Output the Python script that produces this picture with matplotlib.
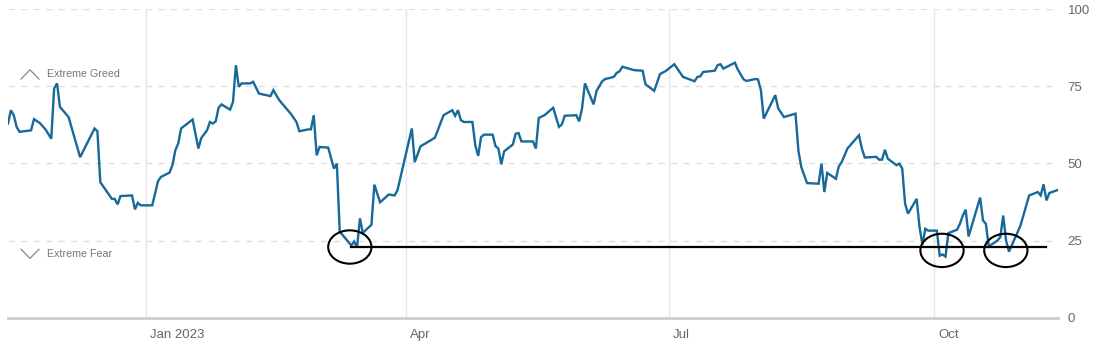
import pandas as pd
import matplotlib
matplotlib.use("Agg")
import matplotlib.pyplot as plt
import matplotlib.dates as mdates
from matplotlib.patches import Ellipse

# Fear & Greed index readings (date, value)
dates = [
    "2022-11-14", "2022-11-15", "2022-11-16", "2022-11-17", "2022-11-18", "2022-11-22", "2022-11-23",
    "2022-11-25", "2022-11-27", "2022-11-29", "2022-11-30", "2022-12-01", "2022-12-02", "2022-12-05",
    "2022-12-09", "2022-12-14", "2022-12-15", "2022-12-16", "2022-12-20", "2022-12-21", "2022-12-22",
    "2022-12-23", "2022-12-27", "2022-12-28", "2022-12-29", "2022-12-30", "2023-01-03", "2023-01-05",
    "2023-01-06", "2023-01-09", "2023-01-10", "2023-01-11", "2023-01-12", "2023-01-13", "2023-01-17",
    "2023-01-19", "2023-01-20", "2023-01-22", "2023-01-23", "2023-01-24", "2023-01-25", "2023-01-26",
    "2023-01-27", "2023-01-30", "2023-01-31", "2023-02-01", "2023-02-02", "2023-02-03", "2023-02-06",
    "2023-02-07", "2023-02-09", "2023-02-13", "2023-02-14", "2023-02-16", "2023-02-20", "2023-02-22",
    "2023-02-23", "2023-02-26", "2023-02-27", "2023-02-28", "2023-03-01", "2023-03-02", "2023-03-05",
    "2023-03-07", "2023-03-08", "2023-03-09", "2023-03-13", "2023-03-14", "2023-03-15", "2023-03-16",
    "2023-03-17", "2023-03-20", "2023-03-21", "2023-03-23", "2023-03-26", "2023-03-28", "2023-03-29",
    "2023-04-03", "2023-04-04", "2023-04-06", "2023-04-11", "2023-04-14", "2023-04-17", "2023-04-18",
    "2023-04-19", "2023-04-20", "2023-04-21", "2023-04-24", "2023-04-25", "2023-04-26", "2023-04-27",
    "2023-04-28", "2023-05-01", "2023-05-02", "2023-05-03", "2023-05-04", "2023-05-05", "2023-05-08",
    "2023-05-09", "2023-05-10", "2023-05-11", "2023-05-15", "2023-05-16", "2023-05-17", "2023-05-19",
    "2023-05-22", "2023-05-24", "2023-05-25", "2023-05-26", "2023-05-30", "2023-05-31", "2023-06-01",
    "2023-06-02", "2023-06-05", "2023-06-06", "2023-06-08", "2023-06-09", "2023-06-12", "2023-06-13",
    "2023-06-14", "2023-06-15", "2023-06-19", "2023-06-22", "2023-06-23", "2023-06-26", "2023-06-27",
    "2023-06-28", "2023-06-30", "2023-07-03", "2023-07-06", "2023-07-10", "2023-07-11", "2023-07-12",
    "2023-07-13", "2023-07-17", "2023-07-18", "2023-07-19", "2023-07-20", "2023-07-24", "2023-07-25",
    "2023-07-27", "2023-07-28", "2023-07-31", "2023-08-01", "2023-08-02", "2023-08-03", "2023-08-07",
    "2023-08-08", "2023-08-10", "2023-08-14", "2023-08-15", "2023-08-16", "2023-08-18", "2023-08-22",
    "2023-08-23", "2023-08-24", "2023-08-25", "2023-08-28", "2023-08-29", "2023-08-30", "2023-09-01",
    "2023-09-05", "2023-09-06", "2023-09-07", "2023-09-11", "2023-09-12", "2023-09-13", "2023-09-14",
    "2023-09-15", "2023-09-18", "2023-09-19", "2023-09-20", "2023-09-21", "2023-09-22", "2023-09-25",
    "2023-09-26", "2023-09-27", "2023-09-28", "2023-09-29", "2023-10-02", "2023-10-03", "2023-10-04",
    "2023-10-05", "2023-10-06", "2023-10-09", "2023-10-10", "2023-10-11", "2023-10-12", "2023-10-13",
    "2023-10-17", "2023-10-18", "2023-10-19", "2023-10-20", "2023-10-23", "2023-10-24", "2023-10-25",
    "2023-10-26", "2023-10-27", "2023-10-30", "2023-10-31", "2023-11-01", "2023-11-03", "2023-11-06",
    "2023-11-07", "2023-11-08", "2023-11-09", "2023-11-10", "2023-11-13",
]
values = [
    62.9, 67.2, 65.6, 61.8, 60.2, 60.7, 64.3,
    63.1, 61.0, 58.0, 74.3, 75.9, 68.3, 65.0,
    52.0, 61.3, 60.4, 43.9, 38.5, 38.5, 36.7,
    39.4, 39.6, 35.1, 37.2, 36.4, 36.4, 44.2,
    45.6, 47.0, 49.4, 54.2, 56.4, 61.3, 64.2,
    54.8, 58.2, 60.7, 63.4, 62.9, 63.6, 68.0,
    69.1, 67.4, 69.9, 81.8, 74.8, 75.9, 75.9,
    76.4, 72.6, 71.8, 73.7, 70.5, 66.1, 63.4,
    60.4, 61.0, 61.0, 65.6, 52.6, 55.3, 55.1,
    48.3, 49.9, 27.9, 23.4, 24.7, 22.8, 32.2,
    27.5, 30.1, 43.1, 37.4, 39.9, 39.6, 41.2,
    61.3, 50.4, 55.5, 58.3, 65.6, 67.2, 65.4,
    67.2, 64.0, 63.4, 63.4, 55.8, 52.4, 58.5,
    59.3, 59.3, 55.6, 54.8, 49.7, 53.9, 56.1,
    59.6, 59.8, 57.1, 57.1, 54.8, 64.7, 65.6,
    68.0, 61.8, 62.6, 65.4, 65.6, 63.6, 67.8,
    75.9, 69.1, 73.4, 76.6, 77.3, 78.0, 79.3,
    79.8, 81.3, 80.2, 80.0, 75.6, 73.5, 76.1,
    78.9, 79.9, 82.1, 78.0, 76.6, 78.0, 78.2,
    79.6, 80.0, 81.8, 82.1, 80.7, 82.6, 80.4,
    77.2, 76.7, 77.3, 77.2, 73.7, 64.5, 72.1,
    67.8, 65.0, 66.1, 54.2, 48.8, 43.6, 43.4,
    49.9, 40.7, 46.9, 45.0, 49.0, 50.4, 54.8,
    59.1, 54.8, 51.9, 52.1, 51.2, 51.2, 54.4,
    51.5, 49.4, 49.9, 48.3, 36.9, 33.7, 38.5,
    29.3, 23.7, 28.8, 28.2, 28.2, 20.1, 20.5,
    19.8, 27.4, 28.5, 30.4, 33.1, 35.0, 26.3,
    38.9, 31.5, 30.4, 23.1, 25.0, 26.1, 33.1,
    25.0, 21.4, 27.7, 29.9, 33.1, 39.6, 40.7,
    39.6, 43.2, 38.0, 40.4, 41.4,
]

month_ticks = ["2023-01-01", "2023-04-01", "2023-07-01", "2023-10-01"]
month_labels = ["Jan 2023", "Apr", "Jul", "Oct"]
y_ticks = [0, 25, 50, 75, 100]

# hand-drawn support line and circled lows
support_level = 22.9
support_span = ["2023-03-13", "2023-11-09"]
circle_centers = ["2023-03-12 12:00", "2023-10-03 19:00", "2023-10-25 22:00"]
circle_levels = [22.9, 21.8, 21.8]
zone_labels = ["Extreme Greed", "Extreme Fear"]
zone_levels = [78.9, 20.6]

plt.rcParams["font.family"] = ["Liberation Sans", "DejaVu Sans"]

fig = plt.figure(figsize=(11.02, 3.57), dpi=100)
ax = fig.add_axes([8 / 1102, 1 - 317.7 / 357, 1050 / 1102, 308.7 / 357])

x = pd.to_datetime(dates)
ax.plot(x, values, color="#17699a", linewidth=1.7, zorder=3, solid_joinstyle="miter")

ax.set_xlim(pd.Timestamp("2022-11-14"), pd.Timestamp("2023-11-13"))
ax.set_ylim(0, 100)

# gridlines
for v in y_ticks[1:]:
    ax.axhline(v, xmax=0.995, color="#dddddd", linewidth=0.9, linestyle=(0, (5, 5)), zorder=1)
for m in month_ticks:
    ax.axvline(pd.Timestamp(m), color="#e6e6e6", linewidth=1.0, zorder=1)

for s in ["top", "left", "right"]:
    ax.spines[s].set_visible(False)
ax.spines["bottom"].set_color("#cccccc")
ax.spines["bottom"].set_linewidth(2.0)

ax.yaxis.tick_right()
ax.set_yticks(y_ticks)
ax.set_yticklabels([str(v) for v in y_ticks])
ax.tick_params(axis="y", length=0, pad=7, labelsize=9.5, labelcolor="#666666")

ax.set_xticks(pd.to_datetime(month_ticks))
ax.set_xticklabels(month_labels)
ax.tick_params(axis="x", length=0, pad=8, labelsize=9.5, labelcolor="#666666")
offset = matplotlib.transforms.ScaledTranslation(4 / 100, 0, fig.dpi_scale_trans)
for lbl in ax.get_xticklabels():
    lbl.set_horizontalalignment("left")
    lbl.set_transform(lbl.get_transform() + offset)

# zone labels with chevrons
trans = matplotlib.transforms.blended_transform_factory(ax.transAxes, ax.transData)
for label, lvl, up in zip(zone_labels, zone_levels, [True, False]):
    ax.text(39 / 1050, lvl, label, transform=trans, fontsize=7.7, color="#777777",
            va="center", ha="left")
    sign = 1 if up else -1
    base = lvl - 1.6 * sign
    ax.plot([13 / 1050, 22 / 1050, 31 / 1050], [base, base + 3.0 * sign, base],
            transform=trans, color="#888888", linewidth=0.9, clip_on=False)

# support line and circles
ax.plot(pd.to_datetime(support_span), [support_level, support_level], color="black",
        linewidth=1.6, zorder=4)
for c, lvl in zip(circle_centers, circle_levels):
    e = Ellipse((mdates.date2num(pd.Timestamp(c)), lvl), width=15.0, height=10.8,
                fill=False, edgecolor="black", linewidth=1.5, zorder=5)
    ax.add_patch(e)

fig.savefig("out.png", dpi=100)
